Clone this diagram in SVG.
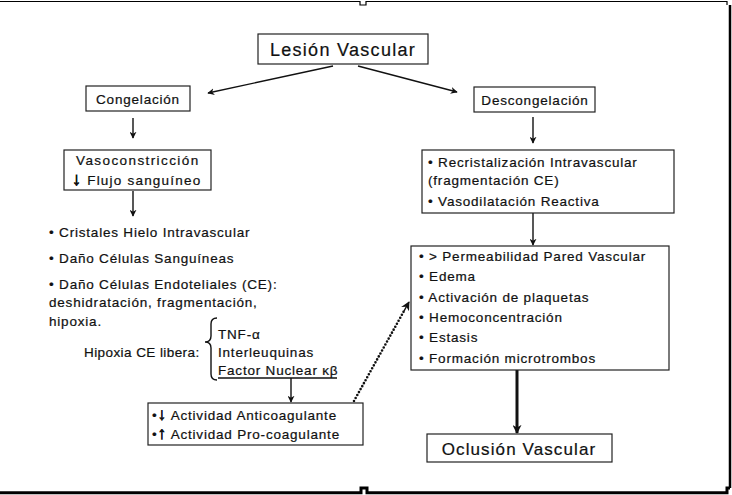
<svg xmlns="http://www.w3.org/2000/svg" width="732" height="495" viewBox="0 0 732 495">
<defs>
<style>
.box{fill:#fff;stroke:#222;stroke-width:1.2}
.t{font-family:"Liberation Sans",Arial,sans-serif;font-size:13.5px;fill:#111;stroke:#111;stroke-width:0.22px;letter-spacing:0.8px}
.c{text-anchor:middle}
.big{font-size:18px;letter-spacing:1.3px}
.mid{font-size:17px;letter-spacing:1.1px}
.ln{stroke:#111;stroke-width:1.4;fill:none}
</style>
<marker id="ah" viewBox="0 0 10 10" refX="9" refY="5" markerWidth="7" markerHeight="7" markerUnits="userSpaceOnUse" orient="auto">
<path d="M0,0 L10,5 L0,10 L3,5 Z" fill="#111"/>
</marker>
<marker id="ahb" viewBox="0 0 10 10" refX="9" refY="5" markerWidth="9" markerHeight="9" markerUnits="userSpaceOnUse" orient="auto">
<path d="M0,0 L10,5 L0,10 L3,5 Z" fill="#111"/>
</marker>
<marker id="ahd" viewBox="0 0 10 10" refX="9" refY="5" markerWidth="9" markerHeight="9" markerUnits="userSpaceOnUse" orient="auto">
<path d="M0,0 L10,5 L0,10 L3,5 Z" fill="#111"/>
</marker>
</defs>
<rect width="732" height="495" fill="#fff"/>
<g id="frame" fill="none" stroke="#000">
<path d="M0,1.5 H360 V5 H366 V1.5 H727 V5" stroke-width="1.2"/>
<path d="M730,5 V488" stroke-width="2.5"/>
<path d="M0,492.8 H361 V488 H367 V492.8 H727 V488 H730" stroke-width="3"/>
</g>
<g id="connectors">
<line class="ln" x1="333" y1="66" x2="208" y2="93" marker-end="url(#ah)"/>
<line class="ln" x1="358" y1="66" x2="457" y2="92" marker-end="url(#ah)"/>
<line class="ln" x1="133" y1="118" x2="133" y2="138" marker-end="url(#ah)"/>
<line class="ln" x1="133" y1="191" x2="133" y2="216" marker-end="url(#ah)"/>
<line class="ln" x1="533" y1="117" x2="533" y2="143" marker-end="url(#ah)"/>
<line class="ln" x1="533" y1="213" x2="533" y2="245" marker-end="url(#ah)"/>
<line class="ln" x1="291" y1="378" x2="291" y2="402" marker-end="url(#ah)"/>
<line x1="517" y1="370" x2="517" y2="433" stroke="#111" stroke-width="3" marker-end="url(#ahb)"/>
<line x1="354" y1="401" x2="404" y2="311" stroke="#111" stroke-width="2.6" stroke-linecap="round" stroke-dasharray="0 3.4"/>
<line x1="404" y1="311" x2="409" y2="302" stroke="#111" stroke-width="1.5" marker-end="url(#ahd)"/>
</g>
<g id="lesion">
<rect class="box" x="258" y="34" width="170" height="30"/>
<text class="t c big" x="343" y="56">Lesión Vascular</text>
</g>
<g id="congelacion">
<rect class="box" x="86" y="86" width="104" height="25"/>
<text class="t c" x="138" y="104">Congelación</text>
</g>
<g id="descongelacion">
<rect class="box" x="474" y="87" width="121" height="25"/>
<text class="t c" x="535" y="105">Descongelación</text>
</g>
<g id="vasoconstriccion">
<rect class="box" x="64" y="150" width="147" height="40"/>
<text class="t" x="76" y="165" textLength="123" lengthAdjust="spacing">Vasoconstricción</text>
<text class="t" x="72" y="185" textLength="129" lengthAdjust="spacing"><tspan font-size="18px" stroke-width="0.8">↓</tspan> Flujo sanguíneo</text>
</g>
<g id="efectos-congelacion">
<text class="t" x="49" y="237">• Cristales Hielo Intravascular</text>
<text class="t" x="49" y="263">• Daño Células Sanguíneas</text>
<text class="t" x="49" y="289">• Daño Células Endoteliales (CE):</text>
<text class="t" x="49" y="307">deshidratación, fragmentación,</text>
<text class="t" x="49" y="326">hipoxia.</text>
</g>
<g id="hipoxia">
<text class="t" x="84" y="357" textLength="116" lengthAdjust="spacing">Hipoxia CE libera:</text>
<path class="ln" d="M217,318 Q211,318 211,324 L211,336 Q211,342 205,342 Q211,342 211,348 L211,374 Q211,380 217,380" stroke-width="1.1"/>
<text class="t" x="218" y="339">TNF-α</text>
<text class="t" x="218" y="357">Interleuquinas</text>
<text class="t" x="218" y="375">Factor Nuclear κβ</text>
<line class="ln" x1="218" y1="378" x2="337" y2="378" stroke-width="1.1"/>
</g>
<g id="actividad">
<rect class="box" x="148" y="403" width="215" height="42"/>
<text class="t" x="152" y="420">•<tspan font-size="17px" stroke-width="0.7">↓</tspan> Actividad Anticoagulante</text>
<text class="t" x="152" y="439">•<tspan font-size="17px" stroke-width="0.7">↑</tspan> Actividad Pro-coagulante</text>
</g>
<g id="recristalizacion">
<rect class="box" x="422" y="150" width="252" height="63"/>
<text class="t" x="428" y="167">• Recristalización Intravascular</text>
<text class="t" x="428" y="185">(fragmentación CE)</text>
<text class="t" x="428" y="206">• Vasodilatación Reactiva</text>
</g>
<g id="permeabilidad">
<rect class="box" x="411" y="246" width="258" height="124"/>
<text class="t" x="419" y="261">• &gt; Permeabilidad Pared Vascular</text>
<text class="t" x="419" y="281">• Edema</text>
<text class="t" x="419" y="302">• Activación de plaquetas</text>
<text class="t" x="419" y="322">• Hemoconcentración</text>
<text class="t" x="419" y="342">• Estasis</text>
<text class="t" x="419" y="363">• Formación microtrombos</text>
</g>
<g id="oclusion">
<rect class="box" x="427" y="434" width="185" height="28"/>
<text class="t c mid" x="519" y="455">Oclusión Vascular</text>
</g>
</svg>
